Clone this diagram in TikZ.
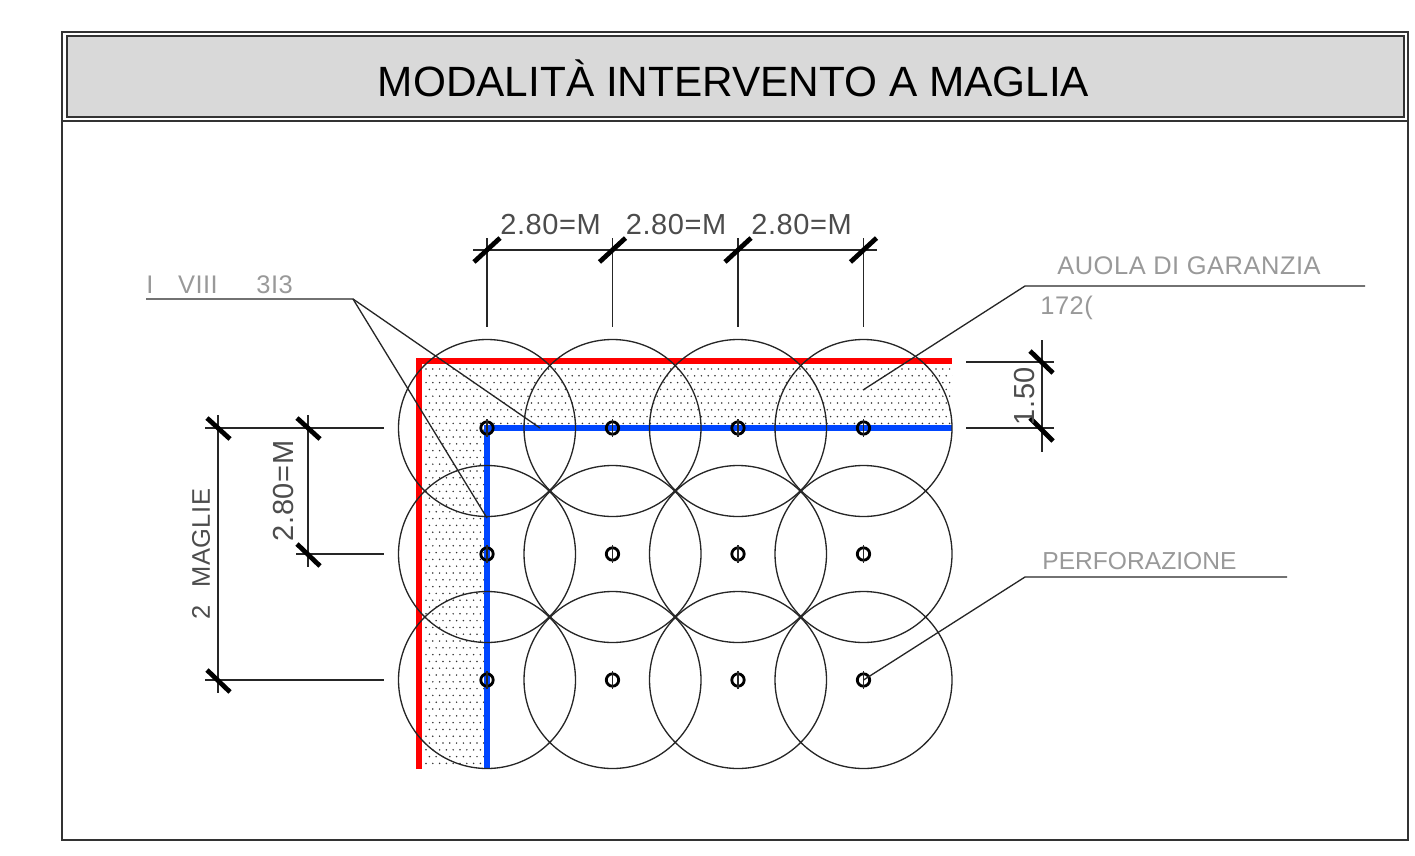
\documentclass[tikz,border=0pt]{standalone}
\usepackage{fontspec}
\setmainfont{Liberation Sans}
\newfontfamily\cadfont[LetterSpace=2]{Liberation Sans}
\definecolor{grigio}{RGB}{217,217,217}
\definecolor{rosso}{RGB}{255,0,0}
\definecolor{blu}{RGB}{0,70,255}
\tikzset{
  line/.style={draw=black!85,line width=0.75pt},
  tick/.style={line width=2.7pt,black},
  lab/.style={inner sep=0pt,black!70,font=\cadfont\fontsize{16.5}{16.5}\selectfont},
  faint/.style={inner sep=0pt,black!40,font=\cadfont\fontsize{14.5}{14.5}\selectfont}
}
\begin{document}
\begin{tikzpicture}[x=0.02cm,y=-0.02cm]
    \useasboundingbox (0,0) rectangle (1415,855);

    % frame and title
    \draw[line width=0.9pt,black!80] (62,32) rectangle (1408,840);
    \draw[line width=0.9pt,black!80] (62,121) -- (1408,121);
    \draw[line width=0.9pt,black!80,fill=grigio] (67,36) rectangle (1404,117);
    \node[inner sep=0pt,font=\fontsize{24.1}{25}\selectfont] (title) at (733.5,78) {MODALITÀ INTERVENTO A MAGLIA};

    % dotted strip
    \begin{scope}
        \clip (419,361) -- (952,361) -- (952,428) -- (487,428) -- (487,769) -- (419,769) -- cycle;
        \foreach \j in {0,...,9} {
            \pgfmathsetmacro{\off}{mod(\j,2)*3.4}
            \foreach \i in {0,...,78} {
                \fill[black!80] ({426+\off+\i*6.8},{369+\j*6.8}) circle (0.85);
            }
        }
        \foreach \j in {10,...,60} {
            \pgfmathsetmacro{\off}{mod(\j,2)*3.4}
            \foreach \i in {0,...,9} {
                \fill[black!80] ({426+\off+\i*6.8},{369+\j*6.8}) circle (0.85);
            }
        }
    \end{scope}

    % red and blue edges
    \draw[rosso,line width=3.4pt] (419,769) -- (419,361) -- (952,361);
    \draw[blu,line width=2.9pt] (487,769) -- (487,428) -- (952,428);

    % circles and holes
    \foreach \i/\x in {1/487,2/612.5,3/738,4/863.5} {
        \foreach \j/\y in {1/428,2/554,3/680} {
            \coordinate (c\i\j) at (\x,\y);
            \draw[line] (c\i\j) circle (88.5);
            \draw[line width=1.6pt] (c\i\j) circle (6.2);
            \draw[line] (\x,\y-9) -- (\x,\y+9);
        }
    }

    % top dimension
    \coordinate (t0) at (473,250);
    \coordinate (t4) at (877,250);
    \draw[line] (t0) -- (t4);
    \foreach \x in {487,612.5,738,863.5} {
        \draw[line] (\x,238) -- (\x,327);
    }
    \foreach \x in {487,612.5,738} {
        \draw[tick] (\x-13,262) -- (\x+13,238);
        \node[lab,anchor=west] at (\x+13,225) {2.80=M};
    }
    \draw[tick] (850.5,262) -- (876.5,238);

    % left dimensions
    \draw[line] (218,415) -- (218,693);
    \draw[line] (308,415) -- (308,567);
    \draw[line] (205,428) -- (384,428);
    \draw[line] (296,554) -- (384,554);
    \draw[line] (205,680) -- (384,680);
    \draw[tick] (207,418) -- (230,439);
    \draw[tick] (297,418) -- (320,439);
    \draw[tick] (297,544) -- (320,566);
    \draw[tick] (207,670) -- (230,692);
    \node[lab,rotate=90,font=\cadfont\fontsize{14.5}{14.5}\selectfont] (maglie) at (201,554) {2\hspace{10pt}MAGLIE};
    \node[lab,rotate=90] (passo) at (284,491) {2.80=M};

    % right dimension
    \draw[line] (1042,340) -- (1042,452);
    \draw[line] (966,362) -- (1054,362);
    \draw[line] (966,428) -- (1054,428);
    \draw[tick] (1030,351) -- (1053,373);
    \draw[tick] (1030,418) -- (1053,441);
    \node[lab,rotate=90] (fascia) at (1025,396) {1.50};

    % leaders
    \coordinate (la) at (146,299);
    \coordinate (lb) at (353,299);
    \coordinate (lc) at (540,428);
    \coordinate (ld) at (487,518);
    \draw[line] (la) -- (lb) -- (lc);
    \draw[line] (lb) -- (ld);
    \node[faint,anchor=south west] (limite) at (146,294) {I\hspace{14pt}VIII\hspace{22pt}3I3};

    \coordinate (ra) at (1365,286);
    \coordinate (rb) at (1025,286);
    \coordinate (rc) at (863,390);
    \draw[line] (ra) -- (rb) -- (rc);
    \node[faint,anchor=south west] (aiuola) at (1057,275) {AUOLA DI GARANZIA};
    \node[faint,anchor=north west] (nota) at (1040,296) {172(};

    \coordinate (pa) at (1287,577);
    \coordinate (pb) at (1025,577);
    \draw[line] (pa) -- (pb) -- (c43);
    \node[faint,anchor=south west,font=\fontsize{14}{14}\selectfont] (perf) at (1042,570) {PERFORAZIONE};
\end{tikzpicture}
\end{document}
